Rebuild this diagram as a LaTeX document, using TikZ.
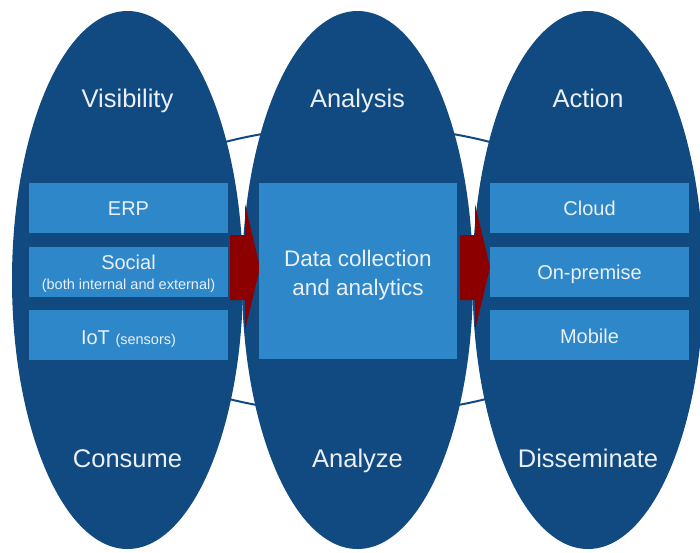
\documentclass[tikz,border=0pt]{standalone}
\usepackage{fontspec}
\setmainfont{Liberation Sans}
\usetikzlibrary{shapes.geometric}
\definecolor{deepblue}{HTML}{114A80}
\definecolor{paleblue}{HTML}{2E87C9}
\definecolor{arrowred}{HTML}{8C0000}
\definecolor{softwhite}{HTML}{EAF0F6}
\begin{document}
\begin{tikzpicture}[x=1pt,y=-1pt,
  stage/.style={ellipse,fill=deepblue,draw=none,inner sep=0pt,
    minimum width=231pt,minimum height=538pt},
  panel/.style={fill=paleblue,draw=none,inner sep=0pt,
    minimum width=199pt,minimum height=50pt},
  caption/.style={text=softwhite,anchor=base,inner sep=0pt,
    font=\fontsize{25.5}{30}\selectfont},
  item/.style={text=softwhite,anchor=base,inner sep=0pt,
    font=\fontsize{20}{24}\selectfont},
  small/.style={text=softwhite,anchor=base,inner sep=0pt,
    font=\fontsize{14.5}{17}\selectfont},
  flow/.style={fill=arrowred,draw=none},
  ring/.style={draw=deepblue,line width=2pt}]
\useasboundingbox (0,0) rectangle (700,552);
\fill[white] (0,0) rectangle (700,552);

% ring linking the three stages
\draw[ring] (357.5,270) ellipse [x radius=289, y radius=144];

% the three stages
\node[stage] (s1) at (127.5,280) {};
\node[stage] (s2) at (357.5,280) {};
\node[stage] (s3) at (588,280) {};

% arrows between stages
\fill[flow] (230,235) -- (245,235) -- (245,204) -- (260,267.5) -- (245,330)
  -- (245,300) -- (230,300) -- cycle;
\fill[flow] (460,235) -- (475,235) -- (475,204) -- (490,267.5) -- (475,330)
  -- (475,300) -- (460,300) -- cycle;

% left column
\node[panel] (erp) at (128.5,208) {};
\node[panel] (social) at (128.5,271.5) {};
\node[panel] (iot) at (128.5,334.5) {};
\node[item] at (128.5,215) {ERP};
\node[item] at (128.5,269) {Social};
\node[small] at (128.5,289) {(both internal and external)};
\node[item] at (128.5,344) {IoT \fontsize{14.5}{17}\selectfont(sensors)};

% middle column
\node[panel,minimum width=198pt,minimum height=176pt] (data) at (358,271) {};
\node[item,font=\fontsize{22.5}{27}\selectfont] at (358,266) {Data collection};
\node[item,font=\fontsize{22.5}{27}\selectfont] at (358,295) {and analytics};

% right column
\node[panel] (cloud) at (589.5,208) {};
\node[panel] (onprem) at (589.5,271.5) {};
\node[panel] (mobile) at (589.5,334.5) {};
\node[item] at (589.5,215) {Cloud};
\node[item] at (589.5,279) {On-premise};
\node[item] at (589.5,343) {Mobile};

% stage captions
\node[caption] at (127.5,107) {Visibility};
\node[caption] at (357.5,107) {Analysis};
\node[caption] at (588,107) {Action};
\node[caption] at (127.5,467) {Consume};
\node[caption] at (357.5,467) {Analyze};
\node[caption] at (588,467) {Disseminate};
\end{tikzpicture}
\end{document}
